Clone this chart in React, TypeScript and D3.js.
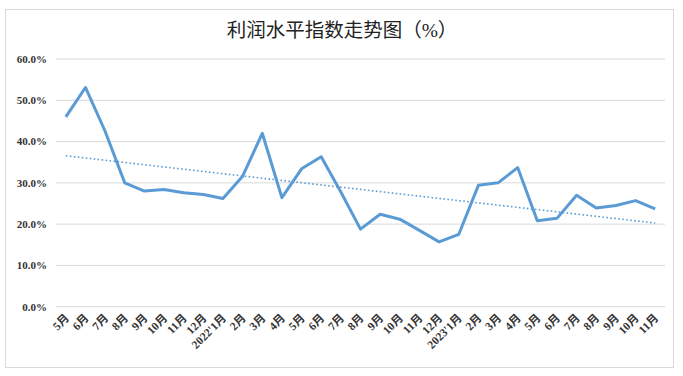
import React from "react";
import * as d3 from "d3";

const title = "利润水平指数走势图（%）";
const categories = [
  "5月", "6月", "7月", "8月", "9月", "10月", "11月", "12月",
  "2022'1月", "2月", "3月", "4月", "5月", "6月", "7月", "8月", "9月", "10月", "11月", "12月",
  "2023'1月", "2月", "3月", "4月", "5月", "6月", "7月", "8月", "9月", "10月", "11月",
];
const values = [
  46.0, 53.1, 42.5, 30.0, 28.0, 28.4, 27.6, 27.2,
  26.2, 31.6, 42.0, 26.4, 33.4, 36.3, 27.8, 18.8, 22.4, 21.2, 18.5, 15.7,
  17.5, 29.4, 30.0, 33.7, 20.8, 21.4, 27.0, 23.9, 24.5, 25.7, 23.7,
];
const yTicks = [0, 10, 20, 30, 40, 50, 60];

const W = 683;
const H = 376;
const plot = { left: 56, right: 665, top: 59, bottom: 306.7 };
const color = "#5B9BD5";
const serif = "'Liberation Serif', 'Times New Roman', 'Noto Sans CJK SC', serif";

export default function App() {
  const x = d3
    .scaleBand<number>()
    .domain(values.map((_, i) => i))
    .range([plot.left, plot.right]);
  const cx = (i: number) => (x(i) as number) + x.bandwidth() / 2;
  const y = d3.scaleLinear().domain([0, 60]).range([plot.bottom, plot.top]);

  const line = d3
    .line<number>()
    .x((_, i) => cx(i))
    .y((d) => y(d));

  // linear trend (least squares)
  const n = values.length;
  const xs = values.map((_, i) => i + 1);
  const mx = d3.mean(xs) as number;
  const my = d3.mean(values) as number;
  const slope =
    (d3.sum(xs, (xi, k) => (xi - mx) * (values[k] - my)) as number) /
    (d3.sum(xs, (xi) => (xi - mx) ** 2) as number);
  const intercept = my - slope * mx;
  const trend = [0, n - 1].map((i) => ({ i, v: intercept + slope * (i + 1) }));

  return (
    <svg
      width={W}
      height={H}
      style={{ position: "absolute", left: 0, top: 0, background: "#fff" }}
    >
      <rect x={0} y={0} width={W} height={H} fill="#fff" />
      <rect x={5.5} y={9.5} width={668} height={358} fill="#fff" stroke="#d9d9d9" strokeWidth={1} />
      <text
        x={342}
        y={37}
        textAnchor="middle"
        fontFamily={serif}
        fontSize={19.5}
        fill="#222"
      >
        {title}
      </text>
      {yTicks.map((t) => (
        <g key={t}>
          <line
            x1={plot.left}
            x2={plot.right}
            y1={y(t)}
            y2={y(t)}
            stroke="#d9d9d9"
            strokeWidth={1}
          />
          <text
            x={47}
            y={y(t)}
            dy="0.35em"
            textAnchor="end"
            fontFamily={serif}
            fontWeight="bold"
            fontSize={11}
            fill="#333"
          >
            {t.toFixed(1) + "%"}
          </text>
        </g>
      ))}
      {categories.map((c, i) => (
        <text
          key={i}
          transform={`translate(${cx(i) + 4},${plot.bottom + 12}) rotate(-45)`}
          textAnchor="end"
          fontFamily={serif}
          fontWeight="bold"
          fontSize={11.5}
          fill="#333"
        >
          {c}
        </text>
      ))}
      <line
        x1={cx(trend[0].i)}
        y1={y(trend[0].v)}
        x2={cx(trend[1].i)}
        y2={y(trend[1].v)}
        stroke={color}
        strokeWidth={1.6}
        strokeDasharray="1.6 2.4"
      />
      <path
        d={line(values) as string}
        fill="none"
        stroke={color}
        strokeWidth={3}
        strokeLinejoin="round"
      />
    </svg>
  );
}
